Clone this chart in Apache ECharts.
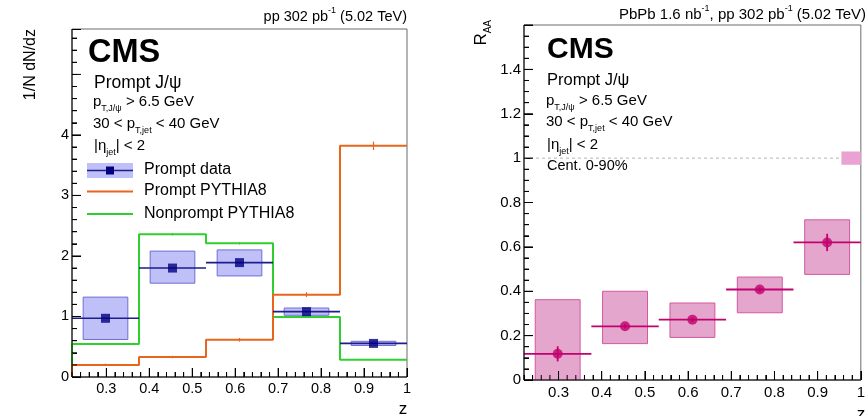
<!DOCTYPE html>
<html>
<head>
<meta charset="utf-8">
<script src="https://cdn.jsdelivr.net/npm/echarts@6/dist/echarts.min.js"></script>
<style>
html,body{margin:0;padding:0;background:#fff;}
#chart{width:868px;height:416px;}
</style>
</head>
<body>
<div id="chart"></div>
<script>
// ---- binning in z ----
const binEdges = [0.22, 0.376, 0.532, 0.688, 0.844, 1.0];
const binCenters = [0.298, 0.454, 0.610, 0.766, 0.922];

// ---- pp: 1/N dN/dz ----
const ppData = [0.97, 1.80, 1.89, 1.08, 0.555];
const ppSysLo = [0.62, 1.55, 1.67, 1.02, 0.52];
const ppSysHi = [1.32, 2.08, 2.10, 1.14, 0.59];
const promptPythia = [0.20, 0.33, 0.615, 1.36, 3.82];
const promptPythiaErr = [0.02, 0.02, 0.03, 0.04, 0.07];
const nonpromptPythia = [0.545, 2.36, 2.21, 0.99, 0.285];
const nonpromptPythiaErr = [0.01, 0.02, 0.02, 0.01, 0.01];

// ---- PbPb / pp: R_AA ----
const raaData = [0.118, 0.242, 0.272, 0.408, 0.620];
const raaStat = [0.034, 0.010, 0.010, 0.010, 0.039];
const raaSysLo = [0.0, 0.164, 0.192, 0.303, 0.476];
const raaSysHi = [0.362, 0.400, 0.347, 0.464, 0.722];
const raaGlobal = [1.0, 0.03];   // reference value and global uncertainty

// ---- axis ticks ----
const zTickLabels = [0.3, 0.4, 0.5, 0.6, 0.7, 0.8, 0.9, 1];
const ppTickLabels = [0, 1, 2, 3, 4, 5];
const raaTickLabels = [0, 0.2, 0.4, 0.6, 0.8, 1, 1.2, 1.4, 1.6];

const FONT = '"Liberation Sans", Arial, Helvetica, sans-serif';
const BOX_HALF = 0.052;
const Z_MIN = 0.22, Z_MAX = 1.0;
const PP_MAX = 5.75, RAA_MAX = 1.6;
const GRID_L = {left: 72, top: 29, width: 335, height: 348};
const GRID_R = {left: 524, top: 25, width: 340, height: 355};

function minorValues(from, to, step, majorStep) {
  const out = [];
  const n = Math.round((to - from) / step);
  for (let i = 0; i <= n; i++) {
    const v = +(from + i * step).toFixed(4);
    const r = v / majorStep;
    if (Math.abs(r - Math.round(r)) > 1e-6) out.push(v);
  }
  return out;
}
const zMinor = minorValues(0.22, 0.98, 0.02, 0.1);
const ppMinor = minorValues(0, 5.6, 0.2, 1);
const raaMinor = minorValues(0, 1.55, 0.05, 0.2);

// evenly spaced z positions (0.02 steps) used by the tick-mark category axes
const zSteps = [];
for (let i = 0; i <= 39; i++) zSteps.push(String(+(Z_MIN + i * 0.02).toFixed(2)));
const isMajorZ = i => i >= 4 && (i - 4) % 5 === 0;

function xAxisCfg(grid, labelMargin, labelSize) {
  return {
    type: 'value', gridIndex: grid, min: Z_MIN, max: Z_MAX, position: 'bottom',
    axisLine: {show: false},
    axisTick: {show: false},
    axisLabel: {show: true, customValues: zTickLabels, margin: labelMargin, fontSize: labelSize,
      fontFamily: FONT, color: '#000', formatter: v => String(v)},
    splitLine: {show: false}
  };
}
function zTickAxis(grid, len, majorOnly) {
  return {
    type: 'category', gridIndex: grid, data: zSteps, boundaryGap: false, position: 'bottom',
    axisLine: {show: false},
    axisLabel: {show: false},
    splitLine: {show: false},
    axisTick: {show: true, inside: true, length: len, lineStyle: {color: '#000', width: 1},
      interval: majorOnly ? (i => isMajorZ(i)) : 0}
  };
}
function yAxisCfg(grid, max, majors, interval, minorSplit, labelSize) {
  return {
    type: 'value', gridIndex: grid, min: 0, max: max, interval: interval, position: 'left',
    axisLine: {show: false},
    axisTick: {show: true, inside: true, length: 9, lineStyle: {color: '#000', width: 1}},
    minorTick: {show: minorSplit > 0, splitNumber: minorSplit || 5, length: 5, lineStyle: {color: '#000', width: 1}},
    axisLabel: {show: true, customValues: majors, showMaxLabel: false, margin: 3, fontSize: labelSize,
      fontFamily: FONT, color: '#000', formatter: v => String(v)},
    splitLine: {show: false}, minorSplitLine: {show: false}
  };
}
function yMinorAxis(grid, max, interval) {
  return {
    type: 'value', gridIndex: grid, min: 0, max: max, interval: interval, position: 'left',
    axisLine: {show: false},
    axisTick: {show: true, inside: true, length: 5, lineStyle: {color: '#000', width: 1}},
    axisLabel: {show: false},
    splitLine: {show: false}
  };
}

// error-bar style item: [x, y, xLo, xHi, yLo, yHi]
function errRender(color, width) {
  return function (params, api) {
    const y = api.value(1);
    const h0 = api.coord([api.value(2), y]);
    const h1 = api.coord([api.value(3), y]);
    const v0 = api.coord([api.value(0), api.value(4)]);
    const v1 = api.coord([api.value(0), api.value(5)]);
    const children = [];
    if (api.value(2) !== api.value(3)) {
      children.push({type: 'line', shape: {x1: h0[0], y1: h0[1], x2: h1[0], y2: h1[1]},
        style: {stroke: color, lineWidth: width}});
    }
    children.push({type: 'line', shape: {x1: v0[0], y1: v0[1], x2: v1[0], y2: v1[1]},
      style: {stroke: color, lineWidth: width}});
    return {type: 'group', children: children};
  };
}

// axis lines and inward ticks as segments in data units
function frameItems(grid, yMax, yTicks, yMinor) {
  const zPerPx = (Z_MAX - Z_MIN) / grid.width;
  const yPerPx = yMax / grid.height;
  const items = [[Z_MIN, 0, Z_MIN, Z_MAX, 0, yMax]];
  zTickLabels.forEach(v => items.push([v, 0, v, v, 0, 9 * yPerPx]));
  zMinor.forEach(v => items.push([v, 0, v, v, 0, 5 * yPerPx]));
  yTicks.forEach(v => items.push([Z_MIN, v, Z_MIN, Z_MIN + 9 * zPerPx, v, v]));
  yMinor.forEach(v => items.push([Z_MIN, v, Z_MIN, Z_MIN + 5 * zPerPx, v, v]));
  return items;
}

function boxRender(fill, stroke) {
  return function (params, api) {
    const x = api.value(0), lo = api.value(1), hi = api.value(2), hw = api.value(3);
    const a = api.coord([x - hw, hi]);
    const b = api.coord([x + hw, lo]);
    return {type: 'rect', shape: {x: a[0], y: a[1], width: b[0] - a[0], height: b[1] - a[1]},
      style: {fill: fill, stroke: stroke, lineWidth: stroke ? 1 : 0}};
  };
}
function histPoints(vals) {
  const pts = [[binEdges[0], 0]];
  vals.forEach((v, i) => { pts.push([binEdges[i], v]); pts.push([binEdges[i + 1], v]); });
  return pts;
}

const NAVY = '#000080';
const NAVY_LINE = '#1d1d8c';
const BLUE_FILL = 'rgba(168,168,246,0.72)';
const BLUE_EDGE = '#6f6fd2';
const ORANGE = '#e8651e';
const GREEN = '#2fcf2f';
const MAGENTA = '#c2006e';
const PINK_FILL = '#e4a6cc';
const PINK_EDGE = '#d2589f';

const series = [
  // left panel
  {type: 'line', xAxisIndex: 0, yAxisIndex: 0, data: histPoints(nonpromptPythia), showSymbol: false,
    lineStyle: {color: GREEN, width: 2}, z: 2, clip: true},
  {type: 'custom', xAxisIndex: 0, yAxisIndex: 0, renderItem: errRender(GREEN, 1), z: 2,
    data: binCenters.map((c, i) => [c, nonpromptPythia[i], c, c, nonpromptPythia[i] - nonpromptPythiaErr[i], nonpromptPythia[i] + nonpromptPythiaErr[i]])},
  {type: 'line', xAxisIndex: 0, yAxisIndex: 0, data: histPoints(promptPythia), showSymbol: false,
    lineStyle: {color: ORANGE, width: 2}, z: 2, clip: true},
  {type: 'custom', xAxisIndex: 0, yAxisIndex: 0, renderItem: errRender(ORANGE, 1.2), z: 2,
    data: binCenters.map((c, i) => [c, promptPythia[i], c, c, promptPythia[i] - promptPythiaErr[i], promptPythia[i] + promptPythiaErr[i]])},
  {type: 'custom', xAxisIndex: 0, yAxisIndex: 0, renderItem: boxRender(BLUE_FILL, BLUE_EDGE), z: 3, clip: true,
    data: binCenters.map((c, i) => [c, ppSysLo[i], ppSysHi[i], BOX_HALF])},
  {type: 'custom', xAxisIndex: 0, yAxisIndex: 0, renderItem: errRender(NAVY_LINE, 1.6), z: 4,
    data: binCenters.map((c, i) => [c, ppData[i], binEdges[i], binEdges[i + 1], ppData[i], ppData[i]])},
  {type: 'scatter', xAxisIndex: 0, yAxisIndex: 0, symbol: 'rect', symbolSize: 9, z: 5,
    itemStyle: {color: NAVY}, data: binCenters.map((c, i) => [c, ppData[i]])},
  {type: 'custom', xAxisIndex: 0, yAxisIndex: 0, renderItem: errRender('#000', 1), z: 6,
    data: frameItems(GRID_L, PP_MAX, ppTickLabels, ppMinor)},

  // right panel
  {type: 'line', xAxisIndex: 1, yAxisIndex: 1, data: [[Z_MIN, raaGlobal[0]], [Z_MAX, raaGlobal[0]]], showSymbol: false,
    lineStyle: {color: '#b4b4b4', width: 1, type: [3, 3]}, z: 1},
  {type: 'custom', xAxisIndex: 1, yAxisIndex: 1, renderItem: boxRender('#eaa2d2', null), z: 2,
    data: [[0.9775, raaGlobal[0] - raaGlobal[1], raaGlobal[0] + raaGlobal[1], 0.0225]]},
  {type: 'custom', xAxisIndex: 1, yAxisIndex: 1, renderItem: boxRender(PINK_FILL, PINK_EDGE), z: 3, clip: true,
    data: binCenters.map((c, i) => [c, raaSysLo[i], raaSysHi[i], BOX_HALF])},
  {type: 'custom', xAxisIndex: 1, yAxisIndex: 1, renderItem: errRender(MAGENTA, 1.8), z: 4,
    data: binCenters.map((c, i) => [c, raaData[i], binEdges[i], binEdges[i + 1], raaData[i] - raaStat[i], raaData[i] + raaStat[i]])},
  {type: 'scatter', xAxisIndex: 1, yAxisIndex: 1, symbol: 'circle', symbolSize: 10, z: 5,
    itemStyle: {color: MAGENTA}, data: binCenters.map((c, i) => [c, raaData[i]])},
  {type: 'custom', xAxisIndex: 1, yAxisIndex: 1, renderItem: errRender('#000', 1), z: 6,
    data: frameItems(GRID_R, RAA_MAX, raaTickLabels, raaMinor)}
];

function t(x, y, text, style, rotation) {
  return {type: 'text', x: x, y: y, z: 100, rotation: rotation || 0,
    style: Object.assign({text: text, fontFamily: FONT, fontSize: 15, fill: '#000',
      align: 'left', verticalAlign: 'middle'}, style || {})};
}
function richSub(main) {
  const small = Math.round(main * 0.6);
  return {
    m: {fontFamily: FONT, fontSize: main, lineHeight: main + 7, verticalAlign: 'middle', fill: '#000'},
    s: {fontFamily: FONT, fontSize: small, lineHeight: small, verticalAlign: 'bottom', fill: '#000'},
    u: {fontFamily: FONT, fontSize: small, lineHeight: small, verticalAlign: 'top', fill: '#000'}
  };
}
function cutsBlock(x, cmsX, yCms, yTitle, yPt, yJet, yEta, cmsSize, titleSize) {
  return [
    t(cmsX, yCms, 'CMS', {fontSize: cmsSize, fontWeight: 'bold'}),
    t(x, yTitle, 'Prompt J/ψ', {fontSize: titleSize}),
    t(x - 1, yPt, '{m|p}{s|T,J/ψ}{m| > 6.5 GeV}', {rich: richSub(15)}),
    t(x - 1, yJet, '{m|30 < p}{s|T,jet}{m| < 40 GeV}', {rich: richSub(15)}),
    t(x, yEta, '{m||η}{s|jet}{m|| < 2}', {rich: richSub(15)})
  ];
}

const graphics = [].concat(
  // left panel labels
  cutsBlock(94, 88, 53, 83, 102, 124, 146, 32.5, 17.5),
  [
    t(407, 17, '{m|pp 302 pb}{u|-1}{m| (5.02 TeV)}', {align: 'right', rich: richSub(14.5)}),
    t(31, 29, '1/N dN/dz', {fontSize: 16, align: 'right'}, Math.PI / 2),
    t(403, 409, 'z', {fontSize: 17, align: 'center'}),
    // legend
    {type: 'rect', shape: {x: 87, y: 163, width: 46, height: 15}, style: {fill: BLUE_FILL}, z: 100},
    {type: 'line', shape: {x1: 87, y1: 170.5, x2: 133, y2: 170.5}, style: {stroke: NAVY_LINE, lineWidth: 1.6}, z: 101},
    {type: 'rect', shape: {x: 106, y: 166.5, width: 8, height: 8}, style: {fill: NAVY}, z: 102},
    {type: 'line', shape: {x1: 87, y1: 191.5, x2: 133, y2: 191.5}, style: {stroke: ORANGE, lineWidth: 2}, z: 101},
    {type: 'line', shape: {x1: 87, y1: 214, x2: 133, y2: 214}, style: {stroke: GREEN, lineWidth: 2}, z: 101},
    t(144, 170, 'Prompt data', {fontSize: 16}),
    t(144, 191, 'Prompt PYTHIA8', {fontSize: 16}),
    t(144, 214, 'Nonprompt PYTHIA8', {fontSize: 16})
  ],
  // right panel labels
  cutsBlock(547, 547, 50, 80, 101, 122, 145, 30, 16.5),
  [
    t(547, 166, 'Cent. 0-90%', {fontSize: 14.5}),
    t(866, 15, '{m|PbPb 1.6 nb}{u|-1}{m|, pp 302 pb}{u|-1}{m| (5.02 TeV)}', {align: 'right', rich: richSub(15)}),
    t(481, 20, '{m|R}{s|AA}', {align: 'right', rich: richSub(17)}, Math.PI / 2),
    t(861, 414, 'z', {fontSize: 17, align: 'center'})
  ]
);

const chart = echarts.init(document.getElementById('chart'), null, {renderer: 'canvas'});
chart.setOption({
  animation: false,
  backgroundColor: '#fff',
  grid: [
    Object.assign({show: true, borderColor: '#6a6a6a', borderWidth: 1, backgroundColor: 'transparent'}, GRID_L),
    Object.assign({show: true, borderColor: '#6a6a6a', borderWidth: 1, backgroundColor: 'transparent'}, GRID_R)
  ],
  xAxis: [
    xAxisCfg(0, 4, 14.5), xAxisCfg(1, 5, 15),
    zTickAxis(0, 9, true), zTickAxis(0, 5, false),
    zTickAxis(1, 9, true), zTickAxis(1, 5, false)
  ],
  yAxis: [
    yAxisCfg(0, PP_MAX, ppTickLabels, 1, 0, 14.5),
    yAxisCfg(1, RAA_MAX, raaTickLabels, 0.2, 4, 15),
    yMinorAxis(0, PP_MAX, 0.2)
  ],
  series: series,
  graphic: graphics
});
</script>
</body>
</html>
